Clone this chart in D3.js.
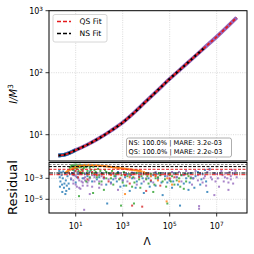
<!DOCTYPE html>
<html>
<head>
<meta charset="utf-8">
<script src="https://cdn.jsdelivr.net/npm/d3@7/dist/d3.min.js"></script>
<style>
  body { margin: 0; background: #fff; }
  svg { display: block; font-family: "DejaVu Sans", sans-serif; }
</style>
</head>
<body>
<svg id="chart" width="254" height="254"></svg>
<script>
// ---- data (log10 values) ----
// top panel: I/M^3 against Lambda
let curveLogLam = [0.26, 0.5, 1.0, 1.5, 2.0, 2.5, 3.0, 3.5, 4.0, 4.5, 5.0, 5.5, 6.0, 6.5, 7.0, 7.5, 7.85]
let curveLogI   = [0.665, 0.675, 0.752, 0.84, 0.944, 1.064, 1.197, 1.36, 1.54, 1.72, 1.90, 2.07, 2.24, 2.41, 2.58, 2.76, 2.89]
let nsLastLogLam = 6.5   // NS fit stops here, QS goes on
let blueLastLogLam = 1.2 // blue EOS points visible at the low end

// residual panel: [log10 Lambda, log10 residual] per EOS
let blueRes = [[0.28,-2.6],[0.32,-2.9],[0.35,-3.3],[0.4,-2.7],[0.42,-3.6],[0.45,-3.0],[0.5,-3.9],[0.55,-2.5],[0.58,-3.2],[0.6,-4.2],
  [0.65,-2.8],[0.7,-3.5],[0.75,-2.6],[0.8,-3.1],[0.9,-2.7],[1.0,-3.4],[1.1,-2.6],[1.3,-3.0],[1.5,-2.8],[1.7,-3.3],[2.0,-2.9],
  [2.3,-3.6],[2.34,-5.4],[2.6,-3.1],[2.9,-3.8],[3.1,-2.9],[3.3,-4.2],[3.6,-3.3],[3.9,-4.4],[4.1,-3.0],[4.4,-3.7],[4.7,-4.6],
  [4.9,-3.4],[5.1,-3.9],[5.3,-2.9],[5.44,-5.6],[5.6,-3.5],[5.8,-4.1],[6.0,-3.0],[6.2,-2.4],[6.3,-3.6],[6.5,-2.2],[6.6,-4.3],
  [0.3,-2.3],[0.38,-2.45],[0.47,-2.35],[0.52,-3.5],[0.62,-3.7],[0.68,-2.4],[0.72,-4.0],[0.85,-2.5],[0.95,-2.3],[1.05,-2.9],
  [1.2,-2.45],[1.4,-2.6],[1.6,-2.35],[1.8,-2.7],[1.9,-3.1],[2.1,-2.5],[2.2,-3.0],[2.45,-2.6],[2.7,-2.8],[2.8,-2.4],[3.0,-3.2],
  [3.2,-2.6],[3.4,-3.0],[3.5,-2.5],[3.7,-2.8],[3.8,-3.5],[4.0,-2.6],[4.2,-3.3],[4.3,-2.7],[4.5,-3.0],[4.6,-2.5],[4.8,-2.8],
  [5.0,-3.2],[5.2,-2.5],[5.5,-2.7],[5.7,-3.0],[5.9,-2.5],[6.1,-2.8],[6.4,-2.6],[6.7,-2.1],
  [2.5,-3.4],[2.75,-3.3],[3.05,-3.7],[3.35,-2.7],[3.55,-3.9],[3.85,-3.0],[4.15,-3.8],[4.45,-2.6],[4.65,-3.4],[4.95,-2.6],
  [5.15,-3.3],[5.35,-3.6],[5.65,-2.6],[5.85,-3.4],[6.05,-3.9],[6.35,-3.1],[6.55,-3.3],[0.33,-3.8],[0.43,-4.3],[0.56,-4.5]]
let orangeRes = [[0.6,-2.4],[0.7,-2.27],[0.8,-2.15],[0.9,-2.05],[1.0,-1.95],[1.1,-1.88],[1.2,-1.82],[1.3,-1.78],[1.4,-1.75],
  [1.5,-1.74],[1.6,-1.74],[1.7,-1.75],[1.8,-1.76],[1.9,-1.78],[2.0,-1.8],[2.1,-1.82],[2.2,-1.85],[2.3,-1.87],[2.4,-1.9],
  [2.5,-1.93],[2.6,-1.96],[2.7,-1.99],[2.8,-2.02],[2.9,-2.05],[3.0,-2.08],[3.1,-2.11],[3.2,-2.14],[3.3,-2.17],[3.4,-2.2],
  [3.5,-2.24],[3.6,-2.27],[3.7,-2.31],[3.8,-2.35],[4.2,-2.8],[4.5,-3.2],[4.9,-3.0],[5.1,-3.6],[4.87,-5.2],[5.4,-3.3],[3.1,-4.5],
  [0.65,-2.3],[0.75,-2.2],[0.85,-2.08],[0.95,-1.98],[1.05,-1.9],[1.15,-1.83],[1.25,-1.78],[1.35,-1.74],[1.45,-1.72],
  [1.55,-1.71],[1.65,-1.72],[1.75,-1.73],[1.85,-1.75],[1.95,-1.77],[2.05,-1.79],[2.15,-1.81],[2.25,-1.84],[2.35,-1.86],
  [2.45,-1.89],[2.55,-1.92],[2.65,-1.95],[2.75,-1.98],[2.85,-2.01],[2.95,-2.04],[3.05,-2.07],[3.15,-2.1],[3.25,-2.13],
  [3.35,-2.16],[3.45,-2.19],[3.55,-2.22],[3.65,-2.26],[3.75,-2.3],[3.9,-2.4],[4.0,-2.5],[4.1,-2.6],
  [1.2,-2.4],[1.8,-2.6],[2.5,-2.7],[3.3,-2.9],[4.4,-2.7],[5.0,-2.6]]
let greenRes = [[0.8,-1.9],[0.85,-1.75],[0.9,-2.0],[0.95,-1.7],[1.0,-1.85],[1.05,-2.1],[1.1,-1.72],[1.15,-1.95],[1.2,-1.8],
  [1.25,-2.2],[1.3,-1.75],[1.35,-2.0],[1.4,-1.85],[1.5,-2.3],[1.6,-2.0],[1.7,-2.5],[1.74,-4.4],[1.8,-2.2],[2.0,-2.7],[2.1,-3.3],
  [2.2,-4.1],[2.3,-2.4],[2.5,-3.0],[2.7,-2.6],[2.93,-5.6],[3.0,-3.4],[3.2,-2.8],[3.4,-3.8],[3.48,-5.4],[3.7,-3.1],[3.9,-2.6],
  [4.1,-3.5],[4.3,-4.3],[4.5,-2.9],[4.7,-3.3],[4.9,-5.4],[5.0,-2.7],[5.2,-3.6],[5.4,-3.0],[5.6,-4.0],[5.8,-2.8],[1.14,-4.7],
  [0.75,-2.0],[0.82,-1.8],[0.88,-2.2],[0.92,-1.78],[0.98,-2.05],[1.02,-1.7],[1.08,-1.9],[1.12,-2.3],[1.18,-1.7],[1.22,-1.95],
  [1.28,-1.85],[1.32,-2.1],[1.38,-1.72],[1.45,-1.95],[1.55,-1.8],[1.65,-2.2],[1.75,-1.9],[1.85,-2.4],[1.95,-2.1],[2.05,-2.3],
  [2.15,-2.6],[2.25,-2.2],[2.4,-2.5],[2.55,-2.3],[2.65,-2.8],[2.8,-2.5],[2.95,-2.7],[3.05,-2.4],[3.3,-2.6],[3.45,-2.9],
  [3.6,-2.5],[3.8,-2.8],[4.0,-3.1],[4.2,-2.6],[4.4,-3.0],[4.6,-2.7],[4.8,-3.1],[5.1,-2.8],[5.3,-3.2],[5.5,-2.7],[5.7,-3.3],[5.9,-3.0],
  [1.9,-2.9],[2.0,-3.5],[2.3,-3.0],[2.6,-3.6],[2.85,-3.1],[3.15,-3.7],[3.5,-3.4],[3.75,-3.9],[4.05,-2.8],[4.35,-3.6],
  [4.55,-2.5],[4.85,-3.8],[5.05,-3.3],[5.25,-2.6],[5.45,-3.8],[5.75,-2.6],[1.5,-2.6],[1.6,-2.9],[1.3,-2.5],[1.45,-3.3]]
let redRes = [[0.7,-2.5],[1.1,-2.9],[1.3,-2.3],[1.5,-3.1],[1.9,-2.7],[2.4,-3.3],[2.9,-3.0],[3.3,-3.5],[3.4,-5.6],[3.7,-2.9],
  [3.83,-5.7],[4.0,-4.2],[4.2,-3.2],[4.6,-3.7],[5.0,-3.0],[0.9,-2.6],[1.2,-2.5],[1.7,-2.4],[2.1,-2.6],[2.6,-2.5],[3.1,-2.7],
  [3.5,-2.6],[3.9,-2.5],[4.4,-2.8],[4.8,-2.6],[5.2,-2.9],[2.2,-2.9],[1.0,-2.3]]
let purpleRes = [[0.8,-3.0],[0.9,-3.5],[1.0,-2.8],[1.05,-3.8],[1.15,-3.2],[1.2,-4.0],[1.3,-3.4],[1.36,-6.0],[1.4,-2.9],[1.5,-3.7],
  [1.6,-4.5],[1.8,-3.3],[2.0,-3.9],[2.2,-3.0],[2.5,-3.5],[2.8,-4.1],[3.0,-3.2],[3.3,-2.8],[3.6,-3.6],[4.0,-3.0],[4.3,-3.4],
  [4.6,-2.7],[5.0,-3.1],[5.2,-2.6],[5.5,-3.3],[5.8,-2.5],[6.0,-3.0],[6.2,-2.7],[6.25,-5.65],[6.25,-5.9],[6.4,-3.4],[6.6,-2.4],
  [6.8,-3.1],[6.9,-4.6],[7.0,-2.6],[7.1,-3.8],[7.2,-2.3],[7.3,-3.3],[7.4,-2.5],[7.5,-4.1],[7.6,-2.8],[7.7,-3.5],[7.8,-2.3],[7.85,-2.9],
  [0.85,-2.5],[0.95,-2.7],[1.1,-2.4],[1.25,-2.6],[1.35,-3.0],[1.45,-2.5],[1.55,-3.2],[1.7,-2.7],[1.9,-2.5],[2.1,-2.8],[2.3,-2.45],
  [2.4,-3.1],[2.6,-2.6],[2.7,-3.0],[2.9,-2.5],[3.1,-2.7],[3.2,-3.3],[3.4,-2.45],[3.5,-3.0],[3.8,-2.6],[3.9,-3.3],[4.1,-2.5],
  [4.2,-2.8],[4.4,-2.4],[4.5,-3.1],[4.8,-2.5],[4.9,-2.8],[5.1,-2.4],[5.3,-2.9],[5.4,-2.4],[5.6,-2.7],[5.7,-2.3],[5.9,-2.9],
  [6.1,-2.3],[6.3,-2.5],[6.5,-2.8],[6.7,-2.2],[6.9,-2.5],[7.05,-3.0],[7.25,-2.7],[7.45,-3.0],[7.55,-2.4],[7.65,-2.2],[7.75,-2.6],
  [0.9,-3.2],[1.0,-3.6],[1.1,-3.0],[1.15,-3.9],[1.25,-3.3],[1.3,-3.7],[1.4,-3.2],[1.5,-3.4],[1.6,-3.0],[1.7,-3.8],[1.8,-2.9],
  [2.0,-3.3],[2.1,-3.6],[6.45,-3.0],[6.55,-3.7],[6.75,-2.9],[6.95,-3.3],[7.15,-2.5],[7.35,-2.9],[7.5,-3.4],[7.6,-3.1],
  [7.7,-2.5],[6.2,-3.2],[5.95,-3.6]]

// reference lines in the residual panel
let refLevels = [0.0205, 0.013, 0.0072, 3.2e-3, 2.2e-3]
let refColors = ["#8a8a8a", "#000", "#e41a1c", "#000", "#e41a1c"]
let refDash   = ["2.5,1.5", "3,1.5", "3,1.5", "4,1.2,1,1.2", "4,1.2,1,1.2"]

let xTicks = [1, 3, 5, 7]
let yTicksMain = [1, 2, 3]
let yTicksRes = [-3, -5]
let statText = ["NS: 100.0% | MARE: 3.2e-03", "QS: 100.0% | MARE: 2.2e-03"]

// ---- layout ----
let left = 49, right = 247
let mainTop = 10.7, mainBottom = 161
let resTop = 162.5, resBottom = 213
let svg = d3.select("#chart")

let x = d3.scaleLog().domain([Math.pow(10, -0.136), Math.pow(10, 8.29)]).range([left, right])
let yMain = d3.scaleLog().domain([Math.pow(10, 0.576), 1000]).range([mainBottom, mainTop])
let yRes = d3.scaleLog().domain([Math.pow(10, -6.305), Math.pow(10, -1.495)]).range([resBottom, resTop])

function sup(sel, e) {
  sel.text("10").append("tspan").attr("dy", "-0.45em").attr("font-size", "0.72em")
    .text(e < 0 ? "\u2212" + (-e) : e)
}

function grid(g, yScale, yTicks, top, bottom) {
  g.selectAll(".gx").data(xTicks).enter().append("line")
    .attr("x1", d => x(Math.pow(10, d))).attr("x2", d => x(Math.pow(10, d)))
    .attr("y1", top).attr("y2", bottom)
    .attr("stroke", "#d0d0d0").attr("stroke-width", 0.8).attr("stroke-dasharray", "1,1.3")
  g.selectAll(".gy").data(yTicks).enter().append("line")
    .attr("x1", left).attr("x2", right)
    .attr("y1", d => yScale(Math.pow(10, d))).attr("y2", d => yScale(Math.pow(10, d)))
    .attr("stroke", "#d0d0d0").attr("stroke-width", 0.8).attr("stroke-dasharray", "1,1.3")
}

let gMain = svg.append("g")
grid(gMain, yMain, yTicksMain.filter(d => d < 3), mainTop, mainBottom)

// main curve
let pts = curveLogLam.map((l, i) => [Math.pow(10, l), Math.pow(10, curveLogI[i])])
let line = d3.line().x(d => x(d[0])).y(d => yMain(d[1])).curve(d3.curveMonotoneX)

gMain.append("path").attr("d", line(pts)).attr("fill", "none")
  .attr("stroke", "#9467bd").attr("stroke-width", 3.8)
gMain.append("path").attr("d", line(pts.filter(d => d[0] <= Math.pow(10, blueLastLogLam) + 1e-9)))
  .attr("fill", "none").attr("stroke", "#1f77b4").attr("stroke-width", 3.8)
gMain.append("path").attr("d", line(pts.filter(d => d[0] <= Math.pow(10, nsLastLogLam) + 1e-9)))
  .attr("fill", "none").attr("stroke", "#000").attr("stroke-width", 2.2).attr("stroke-dasharray", "3,2")
gMain.append("path").attr("d", line(pts)).attr("fill", "none")
  .attr("stroke", "#e41a1c").attr("stroke-width", 1.8).attr("stroke-dasharray", "3,2").attr("stroke-dashoffset", 2.5)

// legend
let lg = svg.append("g")
lg.append("rect").attr("x", 53).attr("y", 14.5).attr("width", 54).attr("height", 27.5)
  .attr("rx", 2).attr("fill", "#fff").attr("fill-opacity", 0.85).attr("stroke", "#ccc").attr("stroke-width", 0.8)
let legendItems = [{label: "QS Fit", color: "#e41a1c"}, {label: "NS Fit", color: "#000"}]
legendItems.forEach((d, i) => {
  let yy = 21.5 + i * 12
  lg.append("line").attr("x1", 57).attr("x2", 71).attr("y1", yy).attr("y2", yy)
    .attr("stroke", d.color).attr("stroke-width", 1.6).attr("stroke-dasharray", "4,2")
  lg.append("text").attr("x", 79.5).attr("y", yy + 2.8).attr("font-size", 7.6).text(d.label)
})

// stats box
let sb = svg.append("g")
sb.append("rect").attr("x", 126.5).attr("y", 138).attr("width", 105).attr("height", 19)
  .attr("rx", 2).attr("fill", "#fff").attr("fill-opacity", 0.85).attr("stroke", "#999").attr("stroke-width", 0.8)
statText.forEach((t, i) => {
  sb.append("text").attr("x", 128.5).attr("y", 145.3 + i * 8.3).attr("font-size", 6.6).text(t)
})

// residual panel
let gRes = svg.append("g")
grid(gRes, yRes, yTicksRes, resTop, resBottom)
let resSeries = [
  {data: blueRes, color: "#1f77b4"},
  {data: purpleRes, color: "#9467bd"},
  {data: greenRes, color: "#2ca02c"},
  {data: redRes, color: "#d62728"},
  {data: orangeRes, color: "#ff7f0e"}
]
resSeries.forEach(s => {
  gRes.append("g").selectAll("rect").data(s.data).enter().append("rect")
    .attr("x", d => x(Math.pow(10, d[0])) - 1)
    .attr("y", d => yRes(Math.pow(10, d[1])) - 1)
    .attr("width", 2).attr("height", 2)
    .attr("fill", s.color).attr("opacity", 0.8)
})
refLevels.forEach((v, i) => {
  gRes.append("line").attr("x1", left).attr("x2", right)
    .attr("y1", yRes(v)).attr("y2", yRes(v))
    .attr("stroke", refColors[i]).attr("stroke-width", 1).attr("stroke-dasharray", refDash[i])
})

// frames
svg.append("rect").attr("x", left).attr("y", mainTop).attr("width", right - left).attr("height", mainBottom - mainTop)
  .attr("fill", "none").attr("stroke", "#000").attr("stroke-width", 1)
svg.append("rect").attr("x", left).attr("y", resTop).attr("width", right - left).attr("height", resBottom - resTop)
  .attr("fill", "none").attr("stroke", "#000").attr("stroke-width", 1)

// ticks and labels
let ax = svg.append("g").attr("font-size", 8)
xTicks.forEach(d => {
  let px = x(Math.pow(10, d))
  ax.append("line").attr("x1", px).attr("x2", px).attr("y1", resBottom).attr("y2", resBottom + 3.5).attr("stroke", "#000").attr("stroke-width", 0.8)
  ax.append("text").attr("x", px).attr("y", 228.5).attr("text-anchor", "middle").call(sup, d)
})
yTicksMain.forEach(d => {
  let py = yMain(Math.pow(10, d))
  ax.append("line").attr("x1", left - 3.5).attr("x2", left).attr("y1", py).attr("y2", py).attr("stroke", "#000").attr("stroke-width", 0.8)
  ax.append("text").attr("x", 43).attr("y", py + 3).attr("text-anchor", "end").call(sup, d)
})
yTicksRes.forEach(d => {
  let py = yRes(Math.pow(10, d))
  ax.append("line").attr("x1", left - 3.5).attr("x2", left).attr("y1", py).attr("y2", py).attr("stroke", "#000").attr("stroke-width", 0.8)
  ax.append("text").attr("x", 43).attr("y", py + 3).attr("text-anchor", "end").call(sup, d)
})

// axis titles
svg.append("text").attr("x", 147).attr("y", 245).attr("text-anchor", "middle").attr("font-size", 10.5).text("\u039b")
let yl = svg.append("text").attr("transform", "translate(16.5,94) rotate(-90)").attr("text-anchor", "middle")
  .attr("font-size", 10).attr("font-style", "italic")
yl.append("tspan").text("I/M")
yl.append("tspan").attr("dy", "-0.45em").attr("font-size", "0.72em").attr("font-style", "normal").text("3")
svg.append("text").attr("transform", "translate(16.5,187.5) rotate(-90)").attr("text-anchor", "middle")
  .attr("font-size", 13).text("Residual")
</script>
</body>
</html>
